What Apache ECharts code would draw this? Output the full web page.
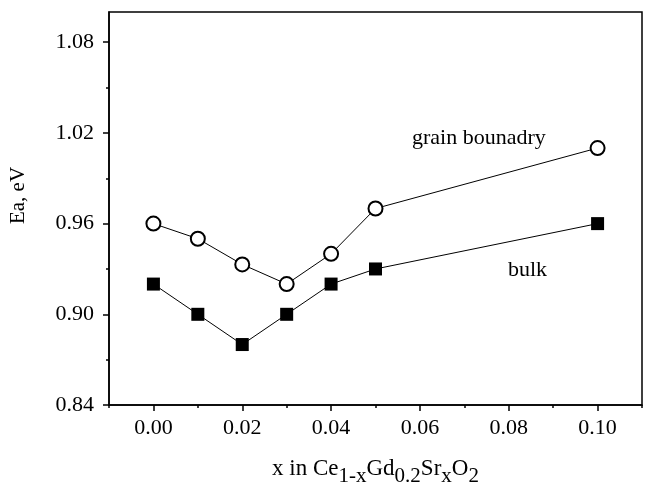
<!DOCTYPE html>
<html>
<head>
<meta charset="utf-8">
<script src="https://cdn.jsdelivr.net/npm/echarts@6/dist/echarts.min.js"></script>
<style>
html, body { margin: 0; padding: 0; background: #fff; }
#main { width: 650px; height: 492px; }
</style>
</head>
<body>
<div id="main"></div>
<script>
var myChart = echarts.init(document.getElementById('main'));

// x values (Sr content) and activation energies
var xValues = [0.00, 0.01, 0.02, 0.03, 0.04, 0.05, 0.10];
var grainBoundary = [0.960, 0.950, 0.933, 0.920, 0.940, 0.970, 1.010];
var bulk = [0.920, 0.900, 0.880, 0.900, 0.920, 0.930, 0.960];

// tick values
var xTicks = [0.00, 0.02, 0.04, 0.06, 0.08, 0.10];
var xMinorTicks = [-0.01, 0.01, 0.03, 0.05, 0.07, 0.09, 0.11];
var yTicks = [0.84, 0.90, 0.96, 1.02, 1.08];
var yMinorTicks = [0.87, 0.93, 0.99, 1.05];

function pairs(ys) {
    var out = [];
    for (var i = 0; i < xValues.length; i++) {
        out.push([xValues[i], ys[i]]);
    }
    return out;
}

var font = 'Liberation Serif';
var fs = 22;

var option = {
    backgroundColor: '#fff',
    animation: false,
    grid: {
        left: 106,
        right: 8,
        top: 12,
        bottom: 86,
        show: true,
        borderColor: '#000',
        borderWidth: 1.5
    },
    xAxis: [{
        type: 'value',
        min: -0.01,
        max: 0.11,
        interval: 0.01,
        position: 'bottom',
        axisLine: { onZero: false, lineStyle: { color: '#000', width: 1.5 } },
        axisTick: { show: true, inside: false, length: 6, customValues: xTicks,
            lineStyle: { color: '#000', width: 1.5 } },
        axisLabel: {
            customValues: xTicks,
            margin: 12,
            color: '#000',
            fontFamily: font,
            fontSize: fs,
            formatter: function (v) { return v.toFixed(2); }
        },
        splitLine: { show: false },
        name: '{t|x in Ce}{s|1-x}{t|Gd}{s|0.2}{t|Sr}{s|x}{t|O}{s|2}',
        nameLocation: 'middle',
        nameGap: 52,
        nameTextStyle: {
            rich: {
                t: { fontFamily: font, fontSize: 23, color: '#000', lineHeight: 27, verticalAlign: 'top' },
                s: { fontFamily: font, fontSize: 21, color: '#000', lineHeight: 27, verticalAlign: 'top', padding: [9, 0, 0, 0] }
            }
        }
    }, {
        type: 'value',
        min: -0.01,
        max: 0.11,
        interval: 0.01,
        position: 'bottom',
        offset: 0,
        axisLine: { show: false, onZero: false },
        axisTick: { show: true, inside: false, length: 3, customValues: xMinorTicks,
            lineStyle: { color: '#000', width: 1.5 } },
        axisLabel: { show: false },
        splitLine: { show: false }
    }],
    yAxis: [{
        type: 'value',
        min: 0.84,
        max: 1.10,
        interval: 0.06,
        position: 'left',
        axisLine: { show: true, onZero: false, lineStyle: { color: '#000', width: 1.5 } },
        axisTick: { show: true, inside: false, length: 6, customValues: yTicks,
            lineStyle: { color: '#000', width: 1.5 } },
        axisLabel: {
            customValues: yTicks,
            margin: 15,
            color: '#000',
            fontFamily: font,
            fontSize: fs,
            formatter: function (v) { return v.toFixed(2); }
        },
        splitLine: { show: false },
        name: 'Ea, eV',
        nameLocation: 'middle',
        nameGap: 80,
        nameTextStyle: {
            color: '#000',
            fontFamily: font,
            fontSize: 21,
            padding: [0, 0, 0, 26]
        }
    }, {
        type: 'value',
        min: 0.84,
        max: 1.10,
        interval: 0.06,
        position: 'left',
        offset: 0,
        axisLine: { show: false, onZero: false },
        axisTick: { show: true, inside: false, length: 3, customValues: yMinorTicks,
            lineStyle: { color: '#000', width: 1.5 } },
        axisLabel: { show: false },
        splitLine: { show: false }
    }],
    graphic: [{
        type: 'text',
        left: 412,
        top: 127,
        style: { text: 'grain bounadry', fill: '#000', font: fs + 'px "' + font + '"' }
    }, {
        type: 'text',
        left: 508,
        top: 259,
        style: { text: 'bulk', fill: '#000', font: fs + 'px "' + font + '"' }
    }],
    series: [{
        name: 'grain boundary',
        type: 'line',
        data: pairs(grainBoundary),
        symbol: 'emptyCircle',
        symbolSize: 14,
        lineStyle: { color: '#000', width: 1 },
        itemStyle: { color: '#000', borderColor: '#000', borderWidth: 1 }
    }, {
        name: 'bulk',
        type: 'line',
        data: pairs(bulk),
        symbol: 'rect',
        symbolSize: 13,
        lineStyle: { color: '#000', width: 1 },
        itemStyle: { color: '#000' }
    }]
};
myChart.setOption(option);
</script>
</body>
</html>
